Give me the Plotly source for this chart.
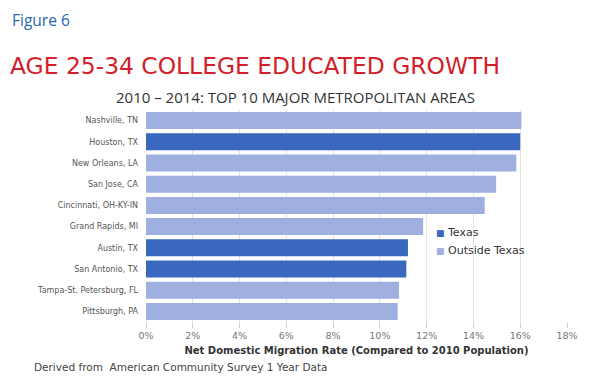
import plotly.graph_objects as go

cities = ["Nashville, TN", "Houston, TX", "New Orleans, LA", "San Jose, CA",
          "Cincinnati, OH-KY-IN", "Grand Rapids, MI", "Austin, TX",
          "San Antonio, TX", "Tampa-St. Petersburg, FL", "Pittsburgh, PA"]
rates = [16.05, 16.0, 15.83, 14.97, 14.48, 11.85, 11.2, 11.13, 10.82, 10.76]
is_texas = [False, True, False, False, False, False, True, True, False, False]
x_ticks = [0, 2, 4, 6, 8, 10, 12, 14, 16, 18]
x_tick_labels = [f"{t}%" for t in x_ticks]

TX_COLOR = "#3b68bf"
OT_COLOR = "#9eafe0"

tx_c = [c for c, t in zip(cities, is_texas) if t]
tx_v = [v for v, t in zip(rates, is_texas) if t]
ot_c = [c for c, t in zip(cities, is_texas) if not t]
ot_v = [v for v, t in zip(rates, is_texas) if not t]

# The page body has an 8px default margin; positions below are in screen pixels
OFF = 8
W, H = 595, 378
L, R, T, B = 146 - OFF, 28 + OFF, 110 - OFF, 56 + OFF
pw, ph = W - L - R, H - T - B


def px(x, y):
    return (x - OFF - L) / pw, 1 - (y - OFF - T) / ph


fig = go.Figure()
fig.add_trace(go.Bar(y=tx_c, x=tx_v, orientation="h", name="Texas",
                     marker=dict(color=TX_COLOR, line=dict(width=0))))
fig.add_trace(go.Bar(y=ot_c, x=ot_v, orientation="h", name="Outside Texas",
                     marker=dict(color=OT_COLOR, line=dict(width=0))))

anns = []


def add_text(text, x, y, xanchor, family, size, color):
    ax, ay = px(x, y)
    anns.append(dict(text=text, x=ax, y=ay, xref="paper", yref="paper",
                     showarrow=False, xanchor=xanchor, yanchor="middle",
                     borderpad=0,
                     font=dict(family=family, size=size, color=color)))


add_text("Figure 6", 11, 19.5, "left", "Open Sans", 15.5, "#1f66ad")
add_text("AGE 25-34 COLLEGE EDUCATED GROWTH", 9, 66, "left", "DejaVu Sans", 23.4, "#d21f2b")
add_text("2010 – 2014: TOP 10 MAJOR METROPOLITAN AREAS", 295, 97, "center",
         "Open Sans", 15, "#333")
add_text("Derived from  American Community Survey 1 Year Data", 33, 367, "left",
         "DejaVu Sans", 10.5, "#444")
add_text(f"<span style='color:{TX_COLOR};font-size:9px'>■</span> Texas", 435, 232, "left",
         "DejaVu Sans", 11, "#333")
add_text(f"<span style='color:{OT_COLOR};font-size:9px'>■</span> Outside Texas", 435, 250, "left",
         "DejaVu Sans", 11, "#333")

fig.update_layout(
    width=W, height=H,
    margin=dict(l=L, r=R, t=T, b=B),
    paper_bgcolor="white", plot_bgcolor="white",
    barmode="relative", bargap=0.2,
    font=dict(family="DejaVu Sans", color="#444"),
    showlegend=False,
    xaxis=dict(range=[0, 18], tickvals=x_ticks, ticktext=x_tick_labels,
               showgrid=True, gridcolor="#e4e4e4", gridwidth=1,
               zeroline=False, ticks="outside", ticklen=5, tickcolor="#ccc",
               tickfont=dict(size=9.5, color="#777"),
               title=dict(text="<b>Net Domestic Migration Rate (Compared to 2010 Population)</b>",
                          font=dict(size=10, color="#333"), standoff=6)),
    yaxis=dict(categoryorder="array", categoryarray=cities[::-1],
               tickfont=dict(size=8, color="#555"), ticks="", ticklen=0,
               ticklabelstandoff=7,
               showgrid=False, zeroline=False, automargin=False),
    annotations=anns,
)

fig.write_html("out.html")
